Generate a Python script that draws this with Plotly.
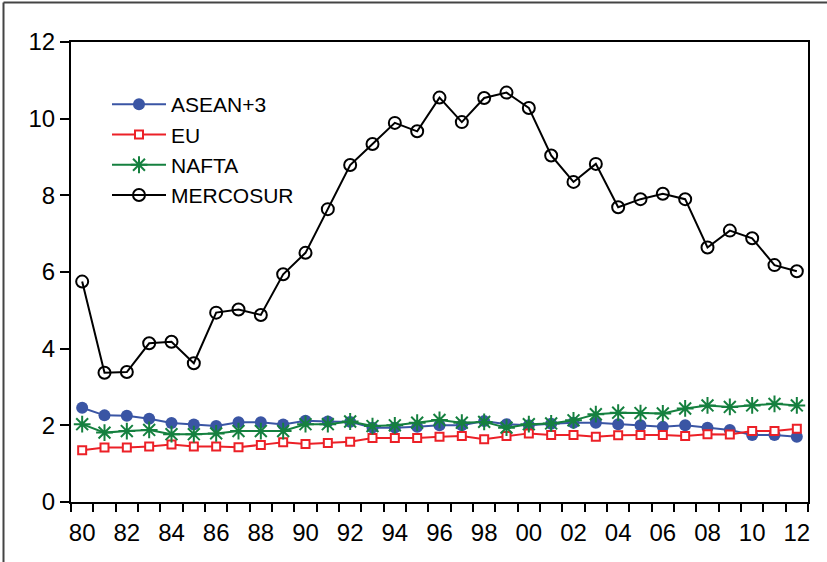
import plotly.graph_objects as go

years = list(range(1980, 2013))

asean = [2.46, 2.26, 2.25, 2.17, 2.06, 2.02, 1.98, 2.08, 2.08, 2.02, 2.12, 2.10, 2.09,
         1.94, 1.94, 1.96, 2.00, 2.00, 2.11, 2.03, 2.00, 2.04, 2.07, 2.07, 2.03, 2.00,
         1.96, 2.00, 1.94, 1.88, 1.75, 1.75, 1.70]
eu = [1.35, 1.42, 1.42, 1.45, 1.50, 1.45, 1.45, 1.43, 1.49, 1.56, 1.51, 1.54, 1.57,
      1.67, 1.67, 1.67, 1.70, 1.72, 1.64, 1.72, 1.79, 1.75, 1.75, 1.70, 1.74, 1.75,
      1.75, 1.72, 1.77, 1.76, 1.85, 1.85, 1.91]
nafta = [2.03, 1.81, 1.85, 1.88, 1.77, 1.77, 1.79, 1.85, 1.85, 1.85, 2.03, 2.03, 2.10,
         1.98, 2.00, 2.07, 2.14, 2.07, 2.09, 1.94, 2.03, 2.05, 2.13, 2.29, 2.33, 2.32,
         2.31, 2.44, 2.52, 2.48, 2.52, 2.56, 2.52]
mercosur = [5.75, 3.37, 3.39, 4.14, 4.18, 3.62, 4.94, 5.02, 4.88, 5.94, 6.50, 7.64, 8.79,
            9.34, 9.89, 9.67, 10.55, 9.91, 10.54, 10.68, 10.28, 9.04, 8.35, 8.82, 7.69,
            7.90, 8.04, 7.90, 6.64, 7.08, 6.88, 6.18, 6.02]

label_years = list(range(1980, 2013, 2))
label_text = [f"{y % 100:02d}" for y in label_years]

fig = go.Figure()

fig.add_trace(go.Scatter(
    x=years, y=asean, name="ASEAN+3", mode="lines+markers",
    line=dict(color="#3a55a4", width=2),
    marker=dict(symbol="circle", size=12, color="#3a55a4"),
))
fig.add_trace(go.Scatter(
    x=years, y=eu, name="EU", mode="lines+markers",
    line=dict(color="#ec2027", width=2),
    marker=dict(symbol="square", size=8, color="white",
                line=dict(color="#ec2027", width=2)),
))
fig.add_trace(go.Scatter(
    x=years, y=nafta, name="NAFTA", mode="lines+markers",
    line=dict(color="#15803f", width=2),
    marker=dict(symbol="asterisk-open", size=14,
                line=dict(color="#15803f", width=2)),
))
fig.add_trace(go.Scatter(
    x=years, y=mercosur, name="MERCOSUR", mode="lines+markers",
    line=dict(color="black", width=2),
    marker=dict(symbol="circle", size=12, color="rgba(255,255,255,0)",
                line=dict(color="black", width=2)),
))

tick_font = dict(family="Liberation Sans Narrow, Arial Narrow, Liberation Sans, Arial",
                 size=24, color="black")

fig.update_xaxes(
    range=[1979.5, 2012.5],
    tickmode="array", tickvals=label_years, ticktext=label_text,
    ticks="outside", ticklen=8, tickcolor="rgba(0,0,0,0)",
    tickfont=tick_font,
    minor=dict(ticks="outside", tick0=1979.5, dtick=1, ticklen=8,
               tickwidth=1.5, tickcolor="black", showgrid=False),
    showline=True, linecolor="black", linewidth=2, mirror=True,
    showgrid=False, zeroline=False,
)
fig.update_yaxes(
    range=[0, 12], tickmode="linear", tick0=0, dtick=2,
    ticks="outside", ticklen=9, tickwidth=1.5, tickcolor="black",
    tickfont=tick_font,
    showline=True, linecolor="black", linewidth=2, mirror=True,
    showgrid=False, zeroline=False,
)

# outer frame edges along the top and left of the canvas
px_w, px_h = 737.0, 460.0
def px_x(px):
    return (px - 71) / px_w
def px_y(py):
    return (502 - py) / px_h

frame = dict(color="#444444", width=2)
fig.add_shape(type="line", xref="paper", yref="paper",
              x0=px_x(3.5), x1=px_x(830), y0=px_y(2.5), y1=px_y(2.5), line=frame)
fig.add_shape(type="line", xref="paper", yref="paper",
              x0=px_x(3.5), x1=px_x(3.5), y0=px_y(2.5), y1=px_y(565), line=frame)

fig.update_layout(
    width=827, height=562,
    margin=dict(l=71, r=19, t=42, b=60),
    plot_bgcolor="white", paper_bgcolor="white",
    showlegend=True,
    legend=dict(
        x=px_x(107), y=px_y(84), xanchor="left", yanchor="top",
        bgcolor="rgba(0,0,0,0)", borderwidth=0,
        font=dict(family="Liberation Sans, Arial", size=21, color="black"),
        itemwidth=54, tracegroupgap=0,
    ),
)

fig.write_html("out.html")
